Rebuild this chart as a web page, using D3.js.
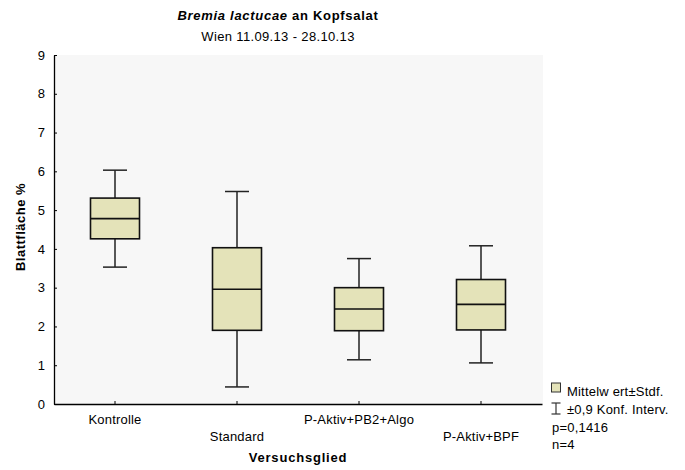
<!DOCTYPE html>
<html>
<head>
<meta charset="utf-8">
<script src="https://cdn.jsdelivr.net/npm/d3@7"></script>
<style>
  html, body { margin: 0; padding: 0; background: #fff; }
  svg { display: block; font-family: "Liberation Sans", Arial, sans-serif; }
</style>
</head>
<body>
<svg id="chart" width="685" height="470"></svg>
<script>
// Versuchsglieder and statistics (Blattfläche %)
const categories = ["Kontrolle", "Standard", "P-Aktiv+PB2+Algo", "P-Aktiv+BPF"];
const means      = [4.78, 2.96, 2.45, 2.57];
const sdLow      = [4.26, 1.90, 1.89, 1.91];
const sdHigh     = [5.31, 4.03, 3.00, 3.21];
const ciLow      = [3.53, 0.44, 1.14, 1.06];
const ciHigh     = [6.03, 5.48, 3.75, 4.08];
const yTicks     = [0, 1, 2, 3, 4, 5, 6, 7, 8, 9];
const legendLines = ["Mittelw ert±Stdf.", "±0,9 Konf. Interv.", "p=0,1416", "n=4"];

const rows = categories.map((c, i) => ({
  cat: c, mean: means[i], lo: sdLow[i], hi: sdHigh[i], min: ciLow[i], max: ciHigh[i], idx: i
}));

const svg = d3.select("#chart");
const plot = { left: 54, right: 543, top: 55, bottom: 404 };
const FS = 13;

const x = d3.scaleBand().domain(categories).range([plot.left, plot.right - 1]).paddingInner(0).paddingOuter(0);
const y = d3.scaleLinear().domain([0, 9]).range([plot.bottom, plot.top]);

const fill = "#e4e3b9";

// plot background
svg.append("rect")
  .attr("x", plot.left).attr("y", plot.top)
  .attr("width", plot.right - plot.left).attr("height", plot.bottom - plot.top)
  .attr("fill", "#f7f7f7");

// y axis
const yAxis = svg.append("g")
  .attr("transform", `translate(${plot.left},0)`)
  .call(d3.axisLeft(y).tickValues(yTicks).tickSizeInner(-3).tickSizeOuter(0).tickPadding(9));
yAxis.select(".domain").attr("stroke", "#000").attr("stroke-width", 1.3);
yAxis.selectAll(".tick line").attr("stroke", "#000");
yAxis.selectAll(".tick text").attr("font-size", FS).attr("fill", "#000")
  .attr("font-family", "Liberation Sans, Arial, sans-serif");

// x axis
const xAxis = svg.append("g")
  .attr("transform", `translate(0,${plot.bottom})`)
  .call(d3.axisBottom(x).tickSizeInner(-3).tickSizeOuter(0).tickFormat(""));
xAxis.select(".domain").attr("stroke", "#000").attr("stroke-width", 1.3);
xAxis.selectAll(".tick line").attr("stroke", "#000");

// staggered category labels
svg.append("g").selectAll("text").data(rows).join("text")
  .attr("x", d => x(d.cat) + x.bandwidth() / 2)
  .attr("y", d => d.idx % 2 === 0 ? 424 : 441)
  .attr("text-anchor", "middle")
  .attr("font-size", FS)
  .attr("letter-spacing", 0.2)
  .attr("fill", "#000")
  .text(d => d.cat);

// boxes with whiskers
const boxW = 49, capW = 24;
const g = svg.append("g").selectAll("g").data(rows).join("g")
  .attr("transform", d => `translate(${x(d.cat) + x.bandwidth() / 2},0)`);

g.append("line").attr("x1", 0).attr("x2", 0)
  .attr("y1", d => y(d.max)).attr("y2", d => y(d.hi))
  .attr("stroke", "#222").attr("stroke-width", 1.5);
g.append("line").attr("x1", 0).attr("x2", 0)
  .attr("y1", d => y(d.lo)).attr("y2", d => y(d.min))
  .attr("stroke", "#222").attr("stroke-width", 1.5);
g.append("line").attr("x1", -capW / 2).attr("x2", capW / 2)
  .attr("y1", d => y(d.max)).attr("y2", d => y(d.max))
  .attr("stroke", "#222").attr("stroke-width", 1.5);
g.append("line").attr("x1", -capW / 2).attr("x2", capW / 2)
  .attr("y1", d => y(d.min)).attr("y2", d => y(d.min))
  .attr("stroke", "#222").attr("stroke-width", 1.5);
g.append("rect")
  .attr("x", -boxW / 2).attr("width", boxW)
  .attr("y", d => y(d.hi)).attr("height", d => y(d.lo) - y(d.hi))
  .attr("fill", fill).attr("stroke", "#111").attr("stroke-width", 1.6);
g.append("line").attr("x1", -boxW / 2).attr("x2", boxW / 2)
  .attr("y1", d => y(d.mean)).attr("y2", d => y(d.mean))
  .attr("stroke", "#111").attr("stroke-width", 1.6);

// title
const title = svg.append("text").attr("x", 278).attr("y", 20)
  .attr("text-anchor", "middle").attr("font-size", FS).attr("font-weight", "bold")
  .attr("letter-spacing", 0.7);
title.append("tspan").attr("font-style", "italic").text("Bremia lactucae");
title.append("tspan").text(" an Kopfsalat");
svg.append("text").attr("x", 278).attr("y", 41)
  .attr("text-anchor", "middle").attr("font-size", FS).attr("letter-spacing", 0.35)
  .text("Wien 11.09.13 - 28.10.13");

// axis titles
svg.append("text").attr("x", 298).attr("y", 462)
  .attr("text-anchor", "middle").attr("font-size", FS).attr("font-weight", "bold")
  .attr("letter-spacing", 0.8).text("Versuchsglied");
svg.append("text")
  .attr("transform", "translate(25,227) rotate(-90)")
  .attr("text-anchor", "middle").attr("font-size", FS).attr("font-weight", "bold")
  .attr("letter-spacing", 0.5)
  .text("Blattfläche %");

// legend
const lg = svg.append("g").attr("transform", "translate(551,0)");
lg.append("rect").attr("x", 0.5).attr("y", 383).attr("width", 9).attr("height", 9)
  .attr("fill", fill).attr("stroke", "#333").attr("stroke-width", 1);
const ib = lg.append("g").attr("stroke", "#333").attr("stroke-width", 1.2);
ib.append("line").attr("x1", 5).attr("x2", 5).attr("y1", 403).attr("y2", 414);
ib.append("line").attr("x1", 0.5).attr("x2", 9.5).attr("y1", 403).attr("y2", 403);
ib.append("line").attr("x1", 0.5).attr("x2", 9.5).attr("y1", 414).attr("y2", 414);
lg.selectAll("text.lt").data(legendLines).join("text")
  .attr("class", "lt")
  .attr("x", (d, i) => i < 2 ? 16 : 1)
  .attr("y", (d, i) => 396 + i * 17.8)
  .attr("font-size", FS)
  .attr("letter-spacing", 0.2)
  .text(d => d);
</script>
</body>
</html>
